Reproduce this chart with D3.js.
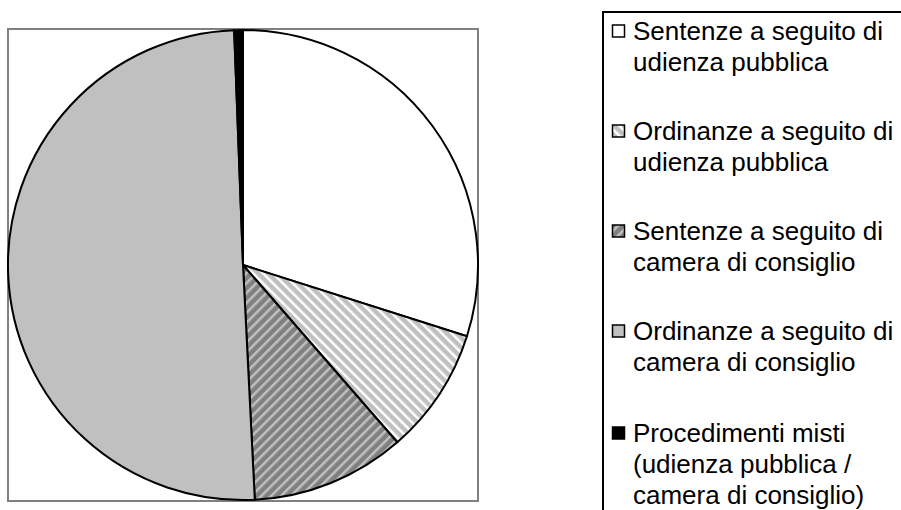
<!DOCTYPE html>
<html>
<head>
<meta charset="utf-8">
<script src="https://cdn.jsdelivr.net/npm/d3@7"></script>
<style>
  body { margin: 0; background: #fff; }
  svg { display: block; font-family: Arial, "Liberation Sans", sans-serif; }
</style>
</head>
<body>
<div id="chart"></div>
<script>
// Data (percent shares)
const categories = [
  "Sentenze a seguito di udienza pubblica",
  "Ordinanze a seguito di udienza pubblica",
  "Sentenze a seguito di camera di consiglio",
  "Ordinanze a seguito di camera di consiglio",
  "Procedimenti misti (udienza pubblica / camera di consiglio)"
];
const legendLines = [
  ["Sentenze a seguito di", "udienza pubblica"],
  ["Ordinanze a seguito di", "udienza pubblica"],
  ["Sentenze a seguito di", "camera di consiglio"],
  ["Ordinanze a seguito di", "camera di consiglio"],
  ["Procedimenti misti", "(udienza pubblica /", "camera di consiglio)"]
];
const values = [29.9, 8.7, 10.6, 50.2, 0.6];

const width = 901;
const height = 510;

const svg = d3.select("#chart")
  .append("svg")
  .attr("width", width)
  .attr("height", height);

// hatch patterns
const defs = svg.append("defs");

function hatch(id, bg, fg, stripe, angle) {
  const p = defs.append("pattern")
    .attr("id", id)
    .attr("patternUnits", "userSpaceOnUse")
    .attr("width", 7)
    .attr("height", 7)
    .attr("patternTransform", `rotate(${angle})`);
  p.append("rect").attr("width", 7).attr("height", 7).attr("fill", bg);
  p.append("rect").attr("width", stripe).attr("height", 7).attr("fill", fg);
}
hatch("lightHatch", "#c0c0c0", "#ffffff", 2.5, -45);
hatch("darkHatch", "#808080", "#c0c0c0", 2.5, 45);

const fills = ["#ffffff", "url(#lightHatch)", "url(#darkHatch)", "#c0c0c0", "#000000"];

// plot area frame
const plot = { x: 8, y: 29, w: 470, h: 472 };
svg.append("rect")
  .attr("x", plot.x)
  .attr("y", plot.y)
  .attr("width", plot.w)
  .attr("height", plot.h)
  .attr("fill", "#fff")
  .attr("stroke", "#808080")
  .attr("stroke-width", 2);

const cx = 243, cy = 265, r = 235;

const pie = d3.pie().sort(null).value(d => d);
const arc = d3.arc().innerRadius(0).outerRadius(r);

svg.append("g")
  .attr("transform", `translate(${cx},${cy})`)
  .selectAll("path")
  .data(pie(values))
  .join("path")
  .attr("d", arc)
  .attr("fill", (d, i) => fills[i])
  .attr("stroke", "#000")
  .attr("stroke-width", 2)
  .attr("stroke-linejoin", "round");

// legend
const legend = svg.append("g");
legend.append("rect")
  .attr("x", 603)
  .attr("y", 12)
  .attr("width", 330)
  .attr("height", 520)
  .attr("fill", "#fff")
  .attr("stroke", "#000")
  .attr("stroke-width", 2);

const lineH = 31;
const items = legend.selectAll("g.item")
  .data(categories)
  .join("g")
  .attr("class", "item")
  .attr("transform", (d, i) => `translate(612,${40 + i * 100 + (legendLines[i].length > 2 ? 2 : 0)})`);

items.append("rect")
  .attr("x", 0.5)
  .attr("y", -15)
  .attr("width", 12)
  .attr("height", 12)
  .attr("fill", (d, i) => fills[i])
  .attr("stroke", "#000")
  .attr("stroke-width", 1.5);

items.append("text")
  .attr("font-size", "26px")
  .attr("fill", "#000")
  .selectAll("tspan")
  .data((d, i) => legendLines[i])
  .join("tspan")
  .attr("x", 21)
  .attr("y", (d, j) => j * lineH)
  .text(d => d);
</script>
</body>
</html>
